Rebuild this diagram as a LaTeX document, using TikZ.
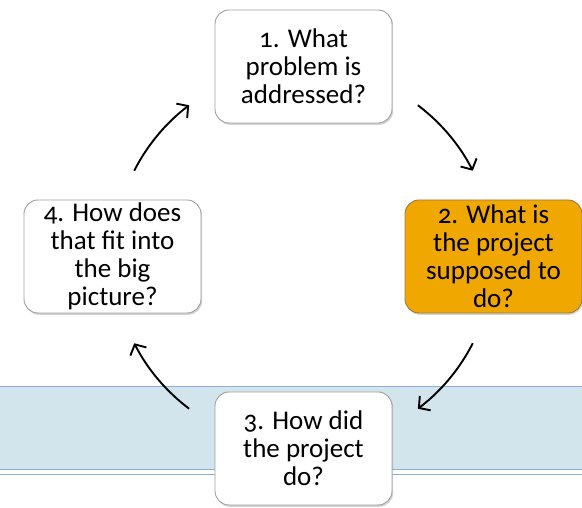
\documentclass[tikz,border=0pt]{standalone}
\usepackage{fontspec}
\setmainfont[Numbers=OldStyle]{Carlito}
\usetikzlibrary{arrows.meta,shadows}

\definecolor{naranja}{HTML}{F0A800}
\definecolor{bordenaranja}{HTML}{9A7A40}
\definecolor{azulbanda}{HTML}{D2E4EC}
\definecolor{lineabanda}{HTML}{8FB0D4}

\tikzset{
  caja/.style={draw=gray!75, line width=0.9pt, rounded corners=14pt, fill=white,
    minimum width=177pt, minimum height=113pt, align=center, inner sep=2pt,
    font=\fontsize{27}{28}\selectfont,
    drop shadow={shadow xshift=1.2pt, shadow yshift=-1.8pt, opacity=0.35}},
  flecha/.style={line width=1.9pt, -{Straight Barb[length=8pt,width=18pt]}},
  linea/.style={draw=lineabanda, line width=1pt}
}

\begin{document}
\begin{tikzpicture}[x=1pt,y=1pt]
    \useasboundingbox (0,0) rectangle (582,508);

    % Banda azul de fondo
    \fill[azulbanda] (0,38) rectangle (582,121);
    \draw[linea] (0,121) -- (582,121);
    \draw[linea] (0,38) -- (582,38);
    \draw[linea] (0,33) -- (582,33);

    % Cajas de preguntas
    \node[caja] (p1) at (303.5,441.5) {1. What\\problem is\\addressed?};
    \node[caja, fill=naranja, draw=bordenaranja] (p2) at (493.5,251.5) {2. What is\\the project\\supposed to\\do?};
    \node[caja] (p3) at (303.5,59.5) {3. How did\\the project\\do?};
    \node[caja] (p4) at (112.5,251.5) {4. How does\\that fit into\\the big\\picture?};

    % Flechas del ciclo
    \coordinate (centro) at (303.5,251);
    \draw[flecha] (centro) ++(53:190) arc (53:27:190);
    \draw[flecha] (centro) ++(-27:190) arc (-27:-53:190);
    \draw[flecha] (centro) ++(-127:190) arc (-127:-153:190);
    \draw[flecha] (centro) ++(153:190) arc (153:127:190);
\end{tikzpicture}
\end{document}
